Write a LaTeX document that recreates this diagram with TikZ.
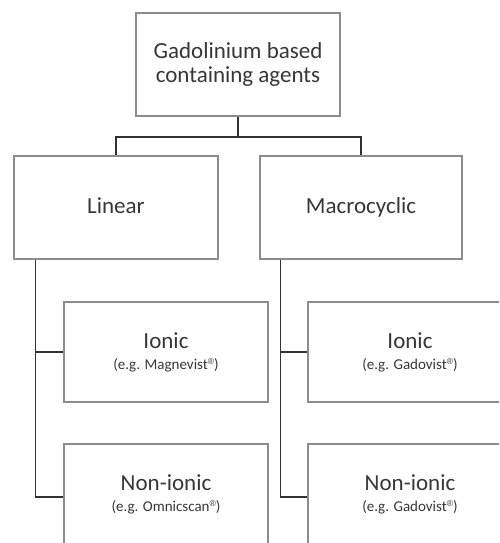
\documentclass[tikz,border=0pt]{standalone}
\usepackage{fontspec}
\setmainfont{Carlito}
\newfontfamily\regfont{Liberation Sans}
\usetikzlibrary{calc}
\definecolor{txt}{RGB}{55,55,55}
\definecolor{boxline}{RGB}{140,140,140}
\definecolor{conn}{RGB}{50,50,50}
\newcommand{\regmark}{\raisebox{4.5pt}{\regfont\fontsize{8.5}{9}\selectfont ®}}
\begin{document}
\begin{tikzpicture}[x=1pt,y=1pt,
  box/.style={draw=boxline, line width=1.6pt, fill=white, text=txt, align=center,
    inner sep=0pt, font=\fontsize{23}{24}\selectfont},
  wide/.style={minimum width=204pt, minimum height=103pt},
  single/.style={text height=16pt, text depth=5pt},
  sub/.style={minimum width=204pt, minimum height=100pt},
  link/.style={draw=conn, line width=1.4pt}]
\useasboundingbox (0,0) rectangle (499,-543);
\clip (0,0) rectangle (499,-543);
\fill[white] (0,0) rectangle (499,-543);
\node[box, wide] (top) at (238,-64.5) {Gadolinium based\\containing agents};
\node[box, wide, single] (lin) at (116,-207.5) {Linear};
\node[box, wide, single, minimum width=202pt] (mac) at (361,-207.5) {Macrocyclic};
\node[box, sub] (ionL) at (166,-352) {Ionic\\[-3pt]{\fontsize{15}{17}\selectfont (e.g. Magnevist\regmark)}};
\node[box, sub] (nonL) at (166,-494) {Non-ionic\\[-3pt]{\fontsize{15}{17}\selectfont (e.g. Omnicscan\regmark)}};
\node[box, sub] (ionR) at (410,-352) {Ionic\\[-3pt]{\fontsize{15}{17}\selectfont (e.g. Gadovist\regmark)}};
\node[box, sub] (nonR) at (410,-494) {Non-ionic\\[-3pt]{\fontsize{15}{17}\selectfont (e.g. Gadovist\regmark)}};
\coordinate (j) at ($(top.south)+(0,-20)$);
\draw[link] (top.south) -- (j) -| (lin.north);
\draw[link] (j) -| (mac.north);
\coordinate (lstart) at ($(lin.south west)+(22,0)$);
\coordinate (rstart) at ($(mac.south west)+(21,0)$);
\draw[link] (lstart) |- (ionL.west);
\draw[link] (lstart) |- ($(nonL.west)+(0,-3)$);
\draw[link] (rstart) |- (ionR.west);
\draw[link] (rstart) |- ($(nonR.west)+(0,-3)$);
\end{tikzpicture}
\end{document}
